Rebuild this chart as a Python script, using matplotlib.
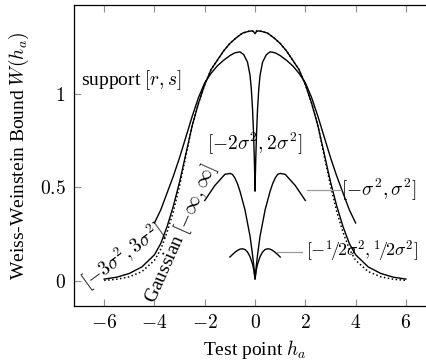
import matplotlib
matplotlib.use("Agg")
import matplotlib.pyplot as plt

plt.rcParams['font.family'] = 'serif'
plt.rcParams['font.serif'] = ['Liberation Serif', 'DejaVu Serif']
plt.rcParams['mathtext.fontset'] = 'cm'

# Gaussian prior (dotted)
gauss_x = [-6, -5.5, -5, -4.5, -4, -3.75, -3.5, -3.25, -3, -2.75, -2.5, -2.25, -2, -1.75, -1.5, -1.25, -1, -0.75, -0.5, -0.25, 0,
           0.25, 0.5, 0.75, 1, 1.25, 1.5, 1.75, 2, 2.25, 2.5, 2.75, 3, 3.25, 3.5, 3.75, 4, 4.5, 5, 5.5, 6]
gauss_y = [0.003, 0.009, 0.022, 0.05, 0.11, 0.17, 0.26, 0.37, 0.51, 0.67, 0.83, 0.95, 1.05, 1.13, 1.18, 1.23, 1.27, 1.30, 1.325, 1.335, 1.338,
           1.335, 1.325, 1.30, 1.27, 1.23, 1.18, 1.13, 1.05, 0.95, 0.83, 0.67, 0.51, 0.37, 0.26, 0.17, 0.11, 0.05, 0.022, 0.009, 0.003]

# support [-3s^2, 3s^2]
s3_x = [-6, -5.5, -5, -4.5, -4, -3.75, -3.5, -3.25, -3, -2.75, -2.5, -2.25, -2, -1.75, -1.5, -1.25, -1, -0.75, -0.5, -0.25, -0.12, -0.05, 0,
        0.05, 0.12, 0.25, 0.5, 0.75, 1, 1.25, 1.5, 1.75, 2, 2.25, 2.5, 2.75, 3, 3.25, 3.5, 3.75, 4, 4.5, 5, 5.5, 6]
s3_y = [0.01, 0.02, 0.04, 0.075, 0.14, 0.20, 0.29, 0.40, 0.53, 0.68, 0.83, 0.95, 1.05, 1.13, 1.18, 1.23, 1.27, 1.30, 1.325, 1.335, 1.337, 1.332, 1.322,
        1.332, 1.337, 1.335, 1.325, 1.30, 1.27, 1.23, 1.18, 1.13, 1.05, 0.95, 0.83, 0.68, 0.53, 0.40, 0.29, 0.20, 0.14, 0.075, 0.04, 0.02, 0.01]

# support [-2s^2, 2s^2]
s2_x = [-4, -3.75, -3.5, -3.25, -3, -2.75, -2.5, -2.25, -2, -1.75, -1.5, -1.25, -1, -0.8, -0.6, -0.45, -0.3, -0.2, -0.15, -0.1, -0.06, -0.03, -0.01, 0,
        0.01, 0.03, 0.06, 0.1, 0.15, 0.2, 0.3, 0.45, 0.6, 0.8, 1, 1.25, 1.5, 1.75, 2, 2.25, 2.5, 2.75, 3, 3.25, 3.5, 3.75, 4]
s2_y = [0.31, 0.38, 0.47, 0.56, 0.66, 0.77, 0.88, 0.98, 1.06, 1.11, 1.15, 1.18, 1.205, 1.22, 1.225, 1.21, 1.17, 1.10, 1.03, 0.92, 0.79, 0.66, 0.55, 0.48,
        0.55, 0.66, 0.79, 0.92, 1.03, 1.10, 1.17, 1.21, 1.225, 1.22, 1.205, 1.18, 1.15, 1.11, 1.06, 0.98, 0.88, 0.77, 0.66, 0.56, 0.47, 0.38, 0.31]

# support [-s^2, s^2]
s1_x = [-2, -1.8, -1.6, -1.4, -1.2, -1, -0.9, -0.8, -0.7, -0.6, -0.5, -0.4, -0.3, -0.2, -0.1, -0.05, 0,
        0.05, 0.1, 0.2, 0.3, 0.4, 0.5, 0.6, 0.7, 0.8, 0.9, 1, 1.2, 1.4, 1.6, 1.8, 2]
s1_y = [0.43, 0.47, 0.51, 0.54, 0.57, 0.575, 0.57, 0.55, 0.52, 0.48, 0.43, 0.38, 0.31, 0.24, 0.14, 0.08, 0.01,
        0.08, 0.14, 0.24, 0.31, 0.38, 0.43, 0.48, 0.52, 0.55, 0.57, 0.575, 0.57, 0.54, 0.51, 0.47, 0.43]

# support [-1/2 s^2, 1/2 s^2]
sh_x = [-1, -0.9, -0.8, -0.7, -0.6, -0.5, -0.4, -0.3, -0.2, -0.1, -0.05, 0,
        0.05, 0.1, 0.2, 0.3, 0.4, 0.5, 0.6, 0.7, 0.8, 0.9, 1]
sh_y = [0.128, 0.141, 0.153, 0.163, 0.17, 0.172, 0.168, 0.155, 0.13, 0.09, 0.06, 0.01,
        0.06, 0.09, 0.13, 0.155, 0.168, 0.172, 0.17, 0.163, 0.153, 0.141, 0.128]

xticks = [-6, -4, -2, 0, 2, 4, 6]
xticklabels = [r"$-6$", r"$-4$", r"$-2$", r"$0$", r"$2$", r"$4$", r"$6$"]
yticks = [0, 0.5, 1]
yticklabels = [r"$0$", r"$0.5$", r"$1$"]

fig = plt.figure(figsize=(4.27, 3.62), dpi=100)
ax = fig.add_axes([0.1733, 0.1547, 0.848, 0.8307])

lw = 1.0
ax.plot(gauss_x, gauss_y, color='black', lw=1.1, linestyle=(0, (1, 1.6)))
ax.plot(s3_x, s3_y, color='black', lw=lw)
ax.plot(s2_x, s2_y, color='black', lw=lw)
ax.plot(s1_x, s1_y, color='black', lw=lw)
ax.plot(sh_x, sh_y, color='black', lw=lw)

ax.set_xlim(-7.2, 7.2)
ax.set_ylim(-0.134, 1.474)
ax.set_xticks(xticks)
ax.set_xticklabels(xticklabels)
ax.set_yticks(yticks)
ax.set_yticklabels(yticklabels)
ax.tick_params(direction='in', length=5, width=0.8, color='#909090', labelsize=14,
               top=True, right=True, pad=6)
for sp in ax.spines.values():
    sp.set_linewidth(0.9)

fs = 14
ax.set_xlabel(r"Test point $h_a$", fontsize=fs, labelpad=4)
ax.set_ylabel(r"Weiss-Weinstein Bound $W(h_a)$", fontsize=fs, labelpad=6)

ax.text(-6.92, 1.075, r"support $[r,s]$", fontsize=fs, ha='left', va='center')
ax.text(0.0, 0.73, r"$[-2\sigma^2, 2\sigma^2]$", fontsize=fs, ha='center', va='center')

pin = '#999999'
ax.plot([2.05, 3.4], [0.485, 0.485], color=pin, lw=0.9)
ax.text(3.4, 0.485, r"$[-\sigma^2, \sigma^2]$", fontsize=fs, ha='left', va='center')
ax.plot([0.86, 1.86], [0.157, 0.157], color=pin, lw=0.9)
ax.text(2.03, 0.157, r"$[-{}^1\!/\!2\sigma^2,{}^1\!/\!2\sigma^2]$", fontsize=13, ha='left', va='center')

ax.text(-5.24, 0.133, r"$[-3\sigma^2, 3\sigma^2]$", fontsize=fs, ha='center', va='center', rotation=36)
ax.text(-2.95, 0.254, r"Gaussian $[-\infty, \infty]$", fontsize=fs, ha='center', va='center', rotation=66)

fig.savefig("out.png", dpi=100)
